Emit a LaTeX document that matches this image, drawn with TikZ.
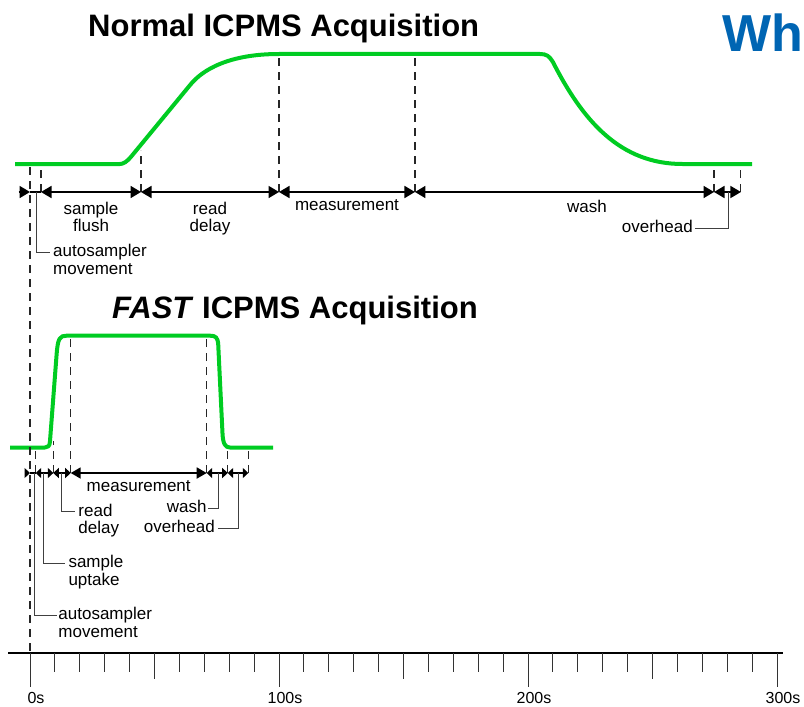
\documentclass[tikz,border=0pt]{standalone}
\usepackage{fontspec}
\setmainfont{Liberation Sans}
\usepackage{tikz}
\usetikzlibrary{arrows.meta}

\definecolor{signal}{RGB}{0,204,34}
\definecolor{brand}{RGB}{0,101,179}

\begin{document}
\begin{tikzpicture}[x=2.49pt, y=-1pt,
  trace/.style={signal, line width=4pt, line join=round},
  guide/.style={black!85, line width=1.1pt, dash pattern=on 8pt off 6pt},
  bigdim/.style={line width=1.8pt, {Triangle[length=10.5pt,width=12pt]}-{Triangle[length=10.5pt,width=12pt]}},
  smalldim/.style={line width=1.2pt, {Triangle[length=5.5pt,width=10pt]}-{Triangle[length=5.5pt,width=10pt]}},
  lead/.style={black!75, line width=1pt},
  tick/.style={black!80, line width=1pt},
  lbl/.style={font=\fontsize{17}{17.5}\selectfont, inner sep=0pt, align=center},
  heading/.style={font=\fontsize{31}{31}\selectfont\bfseries, inner sep=0pt, anchor=base west}]
\useasboundingbox (-12.048,0) rectangle (310.84,706);

\node[heading] (normal) at (23.29,37) {Normal ICPMS Acquisition};
\node[heading] (fast) at (32.93,318) {\textit{FAST} ICPMS Acquisition};
\node[heading, font=\fontsize{52}{52}\selectfont\bfseries, text=brand] (wh) at (277.9,52) {Wh};

\draw[trace] (-6,164) -- (36.1,164) .. controls (37.5,164) and (38.9,161.7) .. (40.5,157)
  -- (64.3,85) .. controls (69.3,69.5) and (80,54) .. (100,54) -- (204.8,54)
  .. controls (207.5,54) and (208.5,56) .. (210,62) .. controls (222,120.8) and (237,164) .. (262,164)
  -- (290,164);
\draw[trace] (-8,447.5) -- (6,447.5) .. controls (7.2,447.5) and (7.88,446) .. (8,442)
  -- (10.7,354) .. controls (11.2,338) and (12,335.7) .. (14.7,335.7) -- (72.3,335.7)
  .. controls (74.5,335.7) and (75.45,337.2) .. (75.6,345) -- (77.3,433)
  .. controls (77.5,443.4) and (78.3,447.5) .. (80.3,447.5) -- (97.6,447.5);

\coordinate (t0) at (0,192);
\coordinate (t1) at (4.42,192);
\coordinate (t2) at (44.58,192);
\coordinate (t3) at (100,192);
\coordinate (t4) at (154.6,192);
\coordinate (t5) at (274.7,192);
\coordinate (t6) at (285.5,192);
\coordinate (b0) at (0,473);
\coordinate (b1) at (2.29,473);
\coordinate (b2) at (9.36,473);
\coordinate (b3) at (16.35,473);
\coordinate (b4) at (70.96,473);
\coordinate (b5) at (79.4,473);
\coordinate (b6) at (87.67,473);
\coordinate (ax0) at (-8.8,653);
\coordinate (ax1) at (302.4,653);

\draw[guide] (0,167) -- (0,653);
\draw[guide]
(t1) --++ (0,-25)
(t2) --++ (0,-42)
(t3) --++ (0,-135)
(t4) --++ (0,-135)
(t5) --++ (0,-25)
(t6) --++ (0,-25)
(b1) --++ (0,-23)
(b2) --++ (0,-32)
(b3) --++ (0,-134)
(b4) --++ (0,-134)
(b5) --++ (0,-23)
(b6) --++ (0,-23);

\draw[line width=1.8pt, -{Triangle[length=10.5pt,width=12pt]}] (-4.6,192) -- (t0);
\draw[line width=1.8pt] (t0) -- (t1);
\draw[bigdim] (t1) -- node[lbl, below=9pt] (flush) {sample\\flush} (t2);
\draw[bigdim] (t2) -- node[lbl, below=9pt] (delay) {read\\delay} (t3);
\draw[bigdim] (t3) -- node[lbl, below=7pt] (meas) {measurement} (t4);
\draw[bigdim] (t4) -- node[lbl, pos=0.575, below=7pt] (wash) {wash} (t5);
\draw[bigdim] (t5) -- (t6);

\coordinate (am1) at (8.03,252);
\coordinate (ov1) at (267.07,228);
\node[lbl, align=left, anchor=north west] (am1t) at ([shift={(3pt,8pt)}]am1) {autosampler\\movement};
\node[lbl, anchor=north east] (ov1t) at ([shift={(-2pt,8pt)}]ov1) {overhead};
\draw[lead] ([xshift=6pt]t0) |- (am1);
\draw[lead] ([xshift=14pt]t5) |- (ov1);

\draw[line width=1.2pt, -{Triangle[length=5.5pt,width=10pt]}] (-1.9,473) -- (b0);
\draw[line width=1.2pt] (b0) -- (b1);
\draw[smalldim] (b1) -- (b2);
\draw[smalldim] (b2) -- (b3);
\draw[line width=1.8pt, {Triangle[length=10pt,width=11pt]}-{Triangle[length=10pt,width=11pt]}]
  (b3) -- node[lbl, below=7pt] (meas2) {measurement} (b4);
\draw[smalldim] (b4) -- (b5);
\draw[smalldim] (b5) -- (b6);

\coordinate (am2) at (10.7,615);
\coordinate (su) at (14.06,563.3);
\coordinate (rd) at (18.07,511.7);
\coordinate (wa) at (71.6,508.3);
\coordinate (ov2) at (75.6,528.3);
\node[lbl, align=left, anchor=north west] (am2t) at ([shift={(1.6pt,8pt)}]am2) {autosampler\\movement};
\node[lbl, align=left, anchor=north west] (sut) at ([shift={(3.3pt,8pt)}]su) {sample\\uptake};
\node[lbl, align=left, anchor=north west] (rdt) at ([shift={(3.3pt,8pt)}]rd) {read\\delay};
\node[lbl, anchor=north east] (wat) at ([shift={(-1.6pt,8pt)}]wa) {wash};
\node[lbl, anchor=north east] (ov2t) at ([shift={(-3.3pt,8pt)}]ov2) {overhead};
\draw[lead] ([xshift=4.3pt]b0) |- (am2);
\draw[lead] ([xshift=7.6pt]b1) |- (su);
\draw[lead] ([xshift=7.7pt]b2) |- (rd);
\draw[lead] ([xshift=11.6pt]b4) |- (wa);
\draw[lead] ([xshift=10.6pt]b5) |- (ov2);

\draw[line width=2pt] (ax0) -- (ax1);
\foreach \t in {0,10,...,300} \draw[tick] (\t,653) --++ (0,19);
\foreach \t in {50,150,250} \draw[tick] (\t,653) --++ (0,26);
\foreach \t in {0,100,200,300} {
  \draw[tick] (\t,653) --++ (0,34);
  \node[font=\fontsize{16}{16}\selectfont, inner sep=0pt, anchor=base] (s\t) at ([xshift=6pt]\t,703) {\t s};
}
\end{tikzpicture}
\end{document}
